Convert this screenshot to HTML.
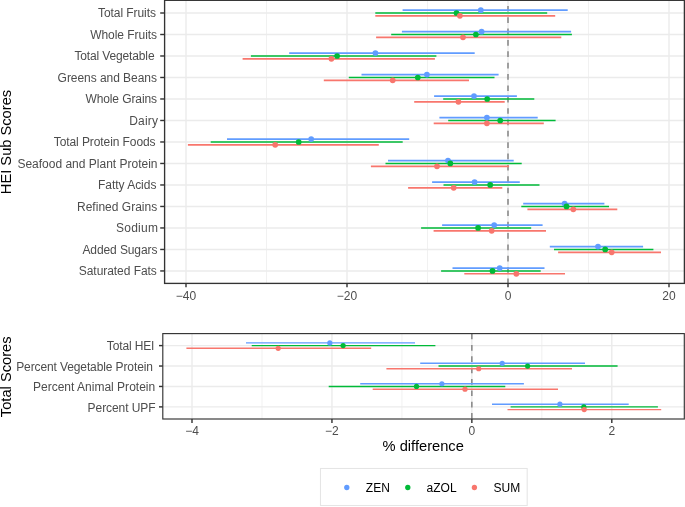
<!DOCTYPE html>
<html lang="en"><head><meta charset="utf-8"><title>HEI scores % difference</title>
<style>html,body{margin:0;padding:0;background:#fff}body{width:685px;height:507px;overflow:hidden}svg{display:block}text{font-family:"Liberation Sans",sans-serif}.tk{font-size:12px;fill:#4D4D4D}.ti{font-size:14.67px;fill:#000}.lg{font-size:12px;fill:#000}</style></head><body>
<svg width="685" height="507" viewBox="0 0 685 507">
<rect width="685" height="507" fill="#fff"/>
<g stroke="#EBEBEB" fill="none">
<line x1="266.5" x2="266.5" y1="0.3" y2="283.4" stroke-width="0.71"/>
<line x1="427.5" x2="427.5" y1="0.3" y2="283.4" stroke-width="0.71"/>
<line x1="588.5" x2="588.5" y1="0.3" y2="283.4" stroke-width="0.71"/>
<line x1="186.0" x2="186.0" y1="0.3" y2="283.4" stroke-width="1.42"/>
<line x1="347.0" x2="347.0" y1="0.3" y2="283.4" stroke-width="1.42"/>
<line x1="508.0" x2="508.0" y1="0.3" y2="283.4" stroke-width="1.42"/>
<line x1="669.0" x2="669.0" y1="0.3" y2="283.4" stroke-width="1.42"/>
<line x1="164.6" x2="684.4" y1="13.00" y2="13.00" stroke-width="1.42"/>
<line x1="164.6" x2="684.4" y1="34.50" y2="34.50" stroke-width="1.42"/>
<line x1="164.6" x2="684.4" y1="55.99" y2="55.99" stroke-width="1.42"/>
<line x1="164.6" x2="684.4" y1="77.49" y2="77.49" stroke-width="1.42"/>
<line x1="164.6" x2="684.4" y1="98.98" y2="98.98" stroke-width="1.42"/>
<line x1="164.6" x2="684.4" y1="120.48" y2="120.48" stroke-width="1.42"/>
<line x1="164.6" x2="684.4" y1="141.98" y2="141.98" stroke-width="1.42"/>
<line x1="164.6" x2="684.4" y1="163.47" y2="163.47" stroke-width="1.42"/>
<line x1="164.6" x2="684.4" y1="184.97" y2="184.97" stroke-width="1.42"/>
<line x1="164.6" x2="684.4" y1="206.46" y2="206.46" stroke-width="1.42"/>
<line x1="164.6" x2="684.4" y1="227.96" y2="227.96" stroke-width="1.42"/>
<line x1="164.6" x2="684.4" y1="249.46" y2="249.46" stroke-width="1.42"/>
<line x1="164.6" x2="684.4" y1="270.95" y2="270.95" stroke-width="1.42"/>
</g>
<line x1="508.0" x2="508.0" y1="0.3" y2="283.4" stroke="#7F7F7F" stroke-width="1.42" stroke-dasharray="5.68 5.68" stroke-dashoffset="5.76"/>
<line x1="402.6" x2="567.7" y1="10.13" y2="10.13" stroke="#619CFF" stroke-width="1.6"/>
<line x1="375.3" x2="547.2" y1="13.00" y2="13.00" stroke="#00BA38" stroke-width="1.6"/>
<line x1="375.3" x2="555.2" y1="15.87" y2="15.87" stroke="#F8766D" stroke-width="1.6"/>
<circle cx="480.8" cy="10.13" r="2.85" fill="#619CFF"/>
<circle cx="456.5" cy="13.00" r="2.85" fill="#00BA38"/>
<circle cx="459.9" cy="15.87" r="2.85" fill="#F8766D"/>
<line x1="401.9" x2="571.1" y1="31.63" y2="31.63" stroke="#619CFF" stroke-width="1.6"/>
<line x1="391.2" x2="571.9" y1="34.50" y2="34.50" stroke="#00BA38" stroke-width="1.6"/>
<line x1="376.1" x2="561.3" y1="37.37" y2="37.37" stroke="#F8766D" stroke-width="1.6"/>
<circle cx="481.6" cy="31.63" r="2.85" fill="#619CFF"/>
<circle cx="475.9" cy="34.50" r="2.85" fill="#00BA38"/>
<circle cx="463.0" cy="37.37" r="2.85" fill="#F8766D"/>
<line x1="289.2" x2="474.7" y1="53.12" y2="53.12" stroke="#619CFF" stroke-width="1.6"/>
<line x1="250.9" x2="436.4" y1="55.99" y2="55.99" stroke="#00BA38" stroke-width="1.6"/>
<line x1="242.6" x2="434.9" y1="58.86" y2="58.86" stroke="#F8766D" stroke-width="1.6"/>
<circle cx="375.4" cy="53.12" r="2.85" fill="#619CFF"/>
<circle cx="337.1" cy="55.99" r="2.85" fill="#00BA38"/>
<circle cx="331.4" cy="58.86" r="2.85" fill="#F8766D"/>
<line x1="361.5" x2="498.6" y1="74.62" y2="74.62" stroke="#619CFF" stroke-width="1.6"/>
<line x1="348.8" x2="494.5" y1="77.49" y2="77.49" stroke="#00BA38" stroke-width="1.6"/>
<line x1="323.8" x2="469.0" y1="80.36" y2="80.36" stroke="#F8766D" stroke-width="1.6"/>
<circle cx="426.9" cy="74.62" r="2.85" fill="#619CFF"/>
<circle cx="417.8" cy="77.49" r="2.85" fill="#00BA38"/>
<circle cx="392.7" cy="80.36" r="2.85" fill="#F8766D"/>
<line x1="434.1" x2="516.9" y1="96.11" y2="96.11" stroke="#619CFF" stroke-width="1.6"/>
<line x1="443.2" x2="534.3" y1="98.98" y2="98.98" stroke="#00BA38" stroke-width="1.6"/>
<line x1="414.2" x2="504.7" y1="101.85" y2="101.85" stroke="#F8766D" stroke-width="1.6"/>
<circle cx="474.0" cy="96.11" r="2.85" fill="#619CFF"/>
<circle cx="487.2" cy="98.98" r="2.85" fill="#00BA38"/>
<circle cx="458.4" cy="101.85" r="2.85" fill="#F8766D"/>
<line x1="439.4" x2="537.7" y1="117.61" y2="117.61" stroke="#619CFF" stroke-width="1.6"/>
<line x1="448.2" x2="555.6" y1="120.48" y2="120.48" stroke="#00BA38" stroke-width="1.6"/>
<line x1="433.7" x2="543.8" y1="123.35" y2="123.35" stroke="#F8766D" stroke-width="1.6"/>
<circle cx="486.9" cy="117.61" r="2.85" fill="#619CFF"/>
<circle cx="500.2" cy="120.48" r="2.85" fill="#00BA38"/>
<circle cx="486.9" cy="123.35" r="2.85" fill="#F8766D"/>
<line x1="227.0" x2="409.2" y1="139.11" y2="139.11" stroke="#619CFF" stroke-width="1.6"/>
<line x1="210.7" x2="402.7" y1="141.98" y2="141.98" stroke="#00BA38" stroke-width="1.6"/>
<line x1="187.9" x2="378.8" y1="144.85" y2="144.85" stroke="#F8766D" stroke-width="1.6"/>
<circle cx="311.2" cy="139.11" r="2.85" fill="#619CFF"/>
<circle cx="298.7" cy="141.98" r="2.85" fill="#00BA38"/>
<circle cx="275.2" cy="144.85" r="2.85" fill="#F8766D"/>
<line x1="388.0" x2="513.7" y1="160.60" y2="160.60" stroke="#619CFF" stroke-width="1.6"/>
<line x1="385.5" x2="521.7" y1="163.47" y2="163.47" stroke="#00BA38" stroke-width="1.6"/>
<line x1="370.9" x2="509.1" y1="166.34" y2="166.34" stroke="#F8766D" stroke-width="1.6"/>
<circle cx="448.0" cy="160.60" r="2.85" fill="#619CFF"/>
<circle cx="450.3" cy="163.47" r="2.85" fill="#00BA38"/>
<circle cx="437.0" cy="166.34" r="2.85" fill="#F8766D"/>
<line x1="432.1" x2="519.8" y1="182.10" y2="182.10" stroke="#619CFF" stroke-width="1.6"/>
<line x1="443.5" x2="539.5" y1="184.97" y2="184.97" stroke="#00BA38" stroke-width="1.6"/>
<line x1="408.1" x2="502.3" y1="187.84" y2="187.84" stroke="#F8766D" stroke-width="1.6"/>
<circle cx="474.6" cy="182.10" r="2.85" fill="#619CFF"/>
<circle cx="490.2" cy="184.97" r="2.85" fill="#00BA38"/>
<circle cx="453.7" cy="187.84" r="2.85" fill="#F8766D"/>
<line x1="523.2" x2="604.4" y1="203.59" y2="203.59" stroke="#619CFF" stroke-width="1.6"/>
<line x1="521.3" x2="609.0" y1="206.46" y2="206.46" stroke="#00BA38" stroke-width="1.6"/>
<line x1="527.4" x2="617.3" y1="209.33" y2="209.33" stroke="#F8766D" stroke-width="1.6"/>
<circle cx="564.6" cy="203.59" r="2.85" fill="#619CFF"/>
<circle cx="566.5" cy="206.46" r="2.85" fill="#00BA38"/>
<circle cx="573.3" cy="209.33" r="2.85" fill="#F8766D"/>
<line x1="442.1" x2="542.6" y1="225.09" y2="225.09" stroke="#619CFF" stroke-width="1.6"/>
<line x1="421.1" x2="531.2" y1="227.96" y2="227.96" stroke="#00BA38" stroke-width="1.6"/>
<line x1="433.6" x2="546.0" y1="230.83" y2="230.83" stroke="#F8766D" stroke-width="1.6"/>
<circle cx="494.2" cy="225.09" r="2.85" fill="#619CFF"/>
<circle cx="478.1" cy="227.96" r="2.85" fill="#00BA38"/>
<circle cx="491.7" cy="230.83" r="2.85" fill="#F8766D"/>
<line x1="549.8" x2="643.1" y1="246.59" y2="246.59" stroke="#619CFF" stroke-width="1.6"/>
<line x1="554.0" x2="653.4" y1="249.46" y2="249.46" stroke="#00BA38" stroke-width="1.6"/>
<line x1="558.1" x2="661.0" y1="252.33" y2="252.33" stroke="#F8766D" stroke-width="1.6"/>
<circle cx="598.0" cy="246.59" r="2.85" fill="#619CFF"/>
<circle cx="605.2" cy="249.46" r="2.85" fill="#00BA38"/>
<circle cx="611.7" cy="252.33" r="2.85" fill="#F8766D"/>
<line x1="452.5" x2="544.5" y1="268.08" y2="268.08" stroke="#619CFF" stroke-width="1.6"/>
<line x1="441.1" x2="540.7" y1="270.95" y2="270.95" stroke="#00BA38" stroke-width="1.6"/>
<line x1="464.3" x2="565.0" y1="273.82" y2="273.82" stroke="#F8766D" stroke-width="1.6"/>
<circle cx="499.7" cy="268.08" r="2.85" fill="#619CFF"/>
<circle cx="492.5" cy="270.95" r="2.85" fill="#00BA38"/>
<circle cx="516.3" cy="273.82" r="2.85" fill="#F8766D"/>
<rect x="164.6" y="0.3" width="519.8" height="283.09999999999997" fill="none" stroke="#333333" stroke-width="1.35"/>
<line x1="160.20" x2="164.6" y1="13.00" y2="13.00" stroke="#333333" stroke-width="1.42"/>
<text class="tk" x="98.00" y="17.40" style="letter-spacing:-0.064px">Total Fruits</text>
<line x1="160.20" x2="164.6" y1="34.50" y2="34.50" stroke="#333333" stroke-width="1.42"/>
<text class="tk" x="90.20" y="38.90" style="letter-spacing:-0.045px">Whole Fruits</text>
<line x1="160.20" x2="164.6" y1="55.99" y2="55.99" stroke="#333333" stroke-width="1.42"/>
<text class="tk" x="74.40" y="60.39" style="letter-spacing:-0.136px">Total Vegetable</text>
<line x1="160.20" x2="164.6" y1="77.49" y2="77.49" stroke="#333333" stroke-width="1.42"/>
<text class="tk" x="57.60" y="81.89" style="letter-spacing:-0.047px">Greens and Beans</text>
<line x1="160.20" x2="164.6" y1="98.98" y2="98.98" stroke="#333333" stroke-width="1.42"/>
<text class="tk" x="85.40" y="103.38" style="letter-spacing:-0.091px">Whole Grains</text>
<line x1="160.20" x2="164.6" y1="120.48" y2="120.48" stroke="#333333" stroke-width="1.42"/>
<text class="tk" x="129.20" y="124.88" style="letter-spacing:0.200px">Dairy</text>
<line x1="160.20" x2="164.6" y1="141.98" y2="141.98" stroke="#333333" stroke-width="1.42"/>
<text class="tk" x="53.80" y="146.38" style="letter-spacing:-0.089px">Total Protein Foods</text>
<line x1="160.20" x2="164.6" y1="163.47" y2="163.47" stroke="#333333" stroke-width="1.42"/>
<text class="tk" x="17.40" y="167.87" style="letter-spacing:0.000px">Seafood and Plant Protein</text>
<line x1="160.20" x2="164.6" y1="184.97" y2="184.97" stroke="#333333" stroke-width="1.42"/>
<text class="tk" x="98.00" y="189.37" style="letter-spacing:-0.030px">Fatty Acids</text>
<line x1="160.20" x2="164.6" y1="206.46" y2="206.46" stroke="#333333" stroke-width="1.42"/>
<text class="tk" x="77.00" y="210.86" style="letter-spacing:0.015px">Refined Grains</text>
<line x1="160.20" x2="164.6" y1="227.96" y2="227.96" stroke="#333333" stroke-width="1.42"/>
<text class="tk" x="116.00" y="232.36" style="letter-spacing:0.240px">Sodium</text>
<line x1="160.20" x2="164.6" y1="249.46" y2="249.46" stroke="#333333" stroke-width="1.42"/>
<text class="tk" x="82.40" y="253.86" style="letter-spacing:-0.091px">Added Sugars</text>
<line x1="160.20" x2="164.6" y1="270.95" y2="270.95" stroke="#333333" stroke-width="1.42"/>
<text class="tk" x="78.80" y="275.35" style="letter-spacing:-0.054px">Saturated Fats</text>
<line x1="186.0" x2="186.0" y1="283.4" y2="287.29999999999995" stroke="#333333" stroke-width="1.42"/>
<text class="tk" x="186.0" y="299.8" text-anchor="middle">−40</text>
<line x1="347.0" x2="347.0" y1="283.4" y2="287.29999999999995" stroke="#333333" stroke-width="1.42"/>
<text class="tk" x="347.0" y="299.8" text-anchor="middle">−20</text>
<line x1="508.0" x2="508.0" y1="283.4" y2="287.29999999999995" stroke="#333333" stroke-width="1.42"/>
<text class="tk" x="508.0" y="299.8" text-anchor="middle">0</text>
<line x1="669.0" x2="669.0" y1="283.4" y2="287.29999999999995" stroke="#333333" stroke-width="1.42"/>
<text class="tk" x="669.0" y="299.8" text-anchor="middle">20</text>
<g stroke="#EBEBEB" fill="none">
<line x1="262.0" x2="262.0" y1="333.6" y2="419.0" stroke-width="0.71"/>
<line x1="401.9" x2="401.9" y1="333.6" y2="419.0" stroke-width="0.71"/>
<line x1="541.8" x2="541.8" y1="333.6" y2="419.0" stroke-width="0.71"/>
<line x1="192.0" x2="192.0" y1="333.6" y2="419.0" stroke-width="1.42"/>
<line x1="331.95" x2="331.95" y1="333.6" y2="419.0" stroke-width="1.42"/>
<line x1="471.85" x2="471.85" y1="333.6" y2="419.0" stroke-width="1.42"/>
<line x1="611.8" x2="611.8" y1="333.6" y2="419.0" stroke-width="1.42"/>
<line x1="162.8" x2="684.3" y1="345.60" y2="345.60" stroke-width="1.42"/>
<line x1="162.8" x2="684.3" y1="366.03" y2="366.03" stroke-width="1.42"/>
<line x1="162.8" x2="684.3" y1="386.46" y2="386.46" stroke-width="1.42"/>
<line x1="162.8" x2="684.3" y1="406.89" y2="406.89" stroke-width="1.42"/>
</g>
<line x1="471.85" x2="471.85" y1="333.6" y2="419.0" stroke="#7F7F7F" stroke-width="1.42" stroke-dasharray="5.68 5.68" stroke-dashoffset="0"/>
<line x1="246.0" x2="415.0" y1="342.88" y2="342.88" stroke="#619CFF" stroke-width="1.42"/>
<line x1="251.7" x2="435.4" y1="345.60" y2="345.60" stroke="#00BA38" stroke-width="1.42"/>
<line x1="186.4" x2="371.2" y1="348.32" y2="348.32" stroke="#F8766D" stroke-width="1.42"/>
<circle cx="329.8" cy="342.88" r="2.6" fill="#619CFF"/>
<circle cx="343.1" cy="345.60" r="2.6" fill="#00BA38"/>
<circle cx="278.2" cy="348.32" r="2.6" fill="#F8766D"/>
<line x1="420.2" x2="585.0" y1="363.31" y2="363.31" stroke="#619CFF" stroke-width="1.42"/>
<line x1="438.5" x2="617.6" y1="366.03" y2="366.03" stroke="#00BA38" stroke-width="1.42"/>
<line x1="386.4" x2="572.0" y1="368.75" y2="368.75" stroke="#F8766D" stroke-width="1.42"/>
<circle cx="502.2" cy="363.31" r="2.6" fill="#619CFF"/>
<circle cx="527.6" cy="366.03" r="2.6" fill="#00BA38"/>
<circle cx="478.7" cy="368.75" r="2.6" fill="#F8766D"/>
<line x1="360.2" x2="523.9" y1="383.74" y2="383.74" stroke="#619CFF" stroke-width="1.42"/>
<line x1="328.7" x2="505.3" y1="386.46" y2="386.46" stroke="#00BA38" stroke-width="1.42"/>
<line x1="372.7" x2="558.0" y1="389.18" y2="389.18" stroke="#F8766D" stroke-width="1.42"/>
<circle cx="441.9" cy="383.74" r="2.6" fill="#619CFF"/>
<circle cx="416.5" cy="386.46" r="2.6" fill="#00BA38"/>
<circle cx="465.0" cy="389.18" r="2.6" fill="#F8766D"/>
<line x1="492.0" x2="628.7" y1="404.17" y2="404.17" stroke="#619CFF" stroke-width="1.42"/>
<line x1="510.6" x2="657.9" y1="406.89" y2="406.89" stroke="#00BA38" stroke-width="1.42"/>
<line x1="507.5" x2="661.2" y1="409.61" y2="409.61" stroke="#F8766D" stroke-width="1.42"/>
<circle cx="559.9" cy="404.17" r="2.6" fill="#619CFF"/>
<circle cx="583.8" cy="406.89" r="2.6" fill="#00BA38"/>
<circle cx="584.2" cy="409.61" r="2.6" fill="#F8766D"/>
<rect x="162.8" y="333.6" width="521.5" height="85.39999999999998" fill="none" stroke="#333333" stroke-width="1.15"/>
<line x1="159.00" x2="162.8" y1="345.60" y2="345.60" stroke="#333333" stroke-width="1.42"/>
<text class="tk" x="106.80" y="350.30" style="letter-spacing:-0.137px">Total HEI</text>
<line x1="159.00" x2="162.8" y1="366.03" y2="366.03" stroke="#333333" stroke-width="1.42"/>
<text class="tk" x="16.20" y="370.73" style="letter-spacing:-0.112px">Percent Vegetable Protein</text>
<line x1="159.00" x2="162.8" y1="386.46" y2="386.46" stroke="#333333" stroke-width="1.42"/>
<text class="tk" x="33.00" y="391.16" style="letter-spacing:0.005px">Percent Animal Protein</text>
<line x1="159.00" x2="162.8" y1="406.89" y2="406.89" stroke="#333333" stroke-width="1.42"/>
<text class="tk" x="87.60" y="411.59" style="letter-spacing:-0.070px">Percent UPF</text>
<line x1="192.0" x2="192.0" y1="419.0" y2="422.9" stroke="#333333" stroke-width="1.42"/>
<text class="tk" x="192.0" y="434.5" text-anchor="middle">−4</text>
<line x1="331.95" x2="331.95" y1="419.0" y2="422.9" stroke="#333333" stroke-width="1.42"/>
<text class="tk" x="331.95" y="434.5" text-anchor="middle">−2</text>
<line x1="471.85" x2="471.85" y1="419.0" y2="422.9" stroke="#333333" stroke-width="1.42"/>
<text class="tk" x="471.85" y="434.5" text-anchor="middle">0</text>
<line x1="611.8" x2="611.8" y1="419.0" y2="422.9" stroke="#333333" stroke-width="1.42"/>
<text class="tk" x="611.8" y="434.5" text-anchor="middle">2</text>
<text class="ti" transform="translate(11.1,142) rotate(-90)" text-anchor="middle">HEI Sub Scores</text>
<text class="ti" transform="translate(10.8,376.8) rotate(-90)" text-anchor="middle">Total Scores</text>
<text class="ti" x="423.2" y="451.4" text-anchor="middle">% difference</text>
<rect x="320.5" y="468.5" width="206.7" height="37" fill="#fff" stroke="#E5E5E5" stroke-width="1.07"/>
<circle cx="346.8" cy="487.5" r="2.65" fill="#619CFF"/>
<text class="lg" x="365.8" y="491.5">ZEN</text>
<circle cx="407.8" cy="487.5" r="2.65" fill="#00BA38"/>
<text class="lg" x="426.6" y="491.5">aZOL</text>
<circle cx="474.4" cy="487.5" r="2.65" fill="#F8766D"/>
<text class="lg" x="493.5" y="491.5">SUM</text>
</svg></body></html>
